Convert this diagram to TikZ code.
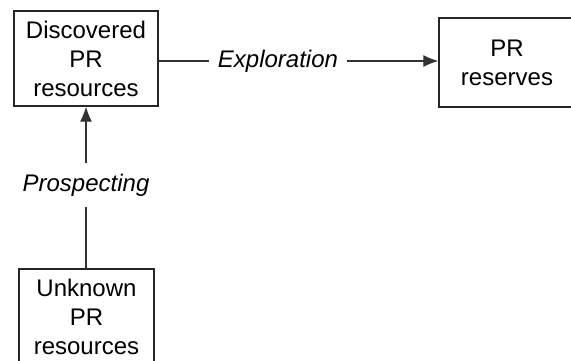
\documentclass[tikz,border=0pt]{standalone}
\usepackage{fontspec}
\setmainfont{Liberation Sans}
\usetikzlibrary{arrows.meta}
\begin{document}
\begin{tikzpicture}[x=1pt,y=1pt,
  box/.style={draw=black!85, line width=1.3pt, align=center, inner sep=0pt,
    font=\fontsize{24}{29}\selectfont},
  act/.style={font=\fontsize{24}{29}\selectfont\itshape, inner sep=9pt},
  link/.style={draw=black!80, line width=1.2pt},
  flow/.style={link, -{Latex[length=15pt,width=12pt]}}]
\useasboundingbox (0,0) rectangle (571,-360);
\clip (0,0) rectangle (571,-360);
\node[box, minimum width=144pt, minimum height=95pt] (disc) at (86,-58.5) {Discovered\\PR\\resources};
\node[box, minimum width=136pt, minimum height=89pt] (res) at (507,-62.5) {PR\\reserves};
\node[box, minimum width=135pt, minimum height=95pt] (unk) at (86.5,-316.5) {Unknown\\PR\\resources};
\node[act] (expl) at (278,-61) {Exploration};
\node[act, inner sep=11pt] (prosp) at (86,-185) {Prospecting};
\draw[link] (disc.east |- expl) -- (expl.west);
\draw[flow] (expl.east) -- (res.west |- expl);
\draw[link] (unk.north -| prosp) -- (prosp.south);
\draw[flow] (prosp.north) -- (disc.south -| prosp);
\end{tikzpicture}
\end{document}
